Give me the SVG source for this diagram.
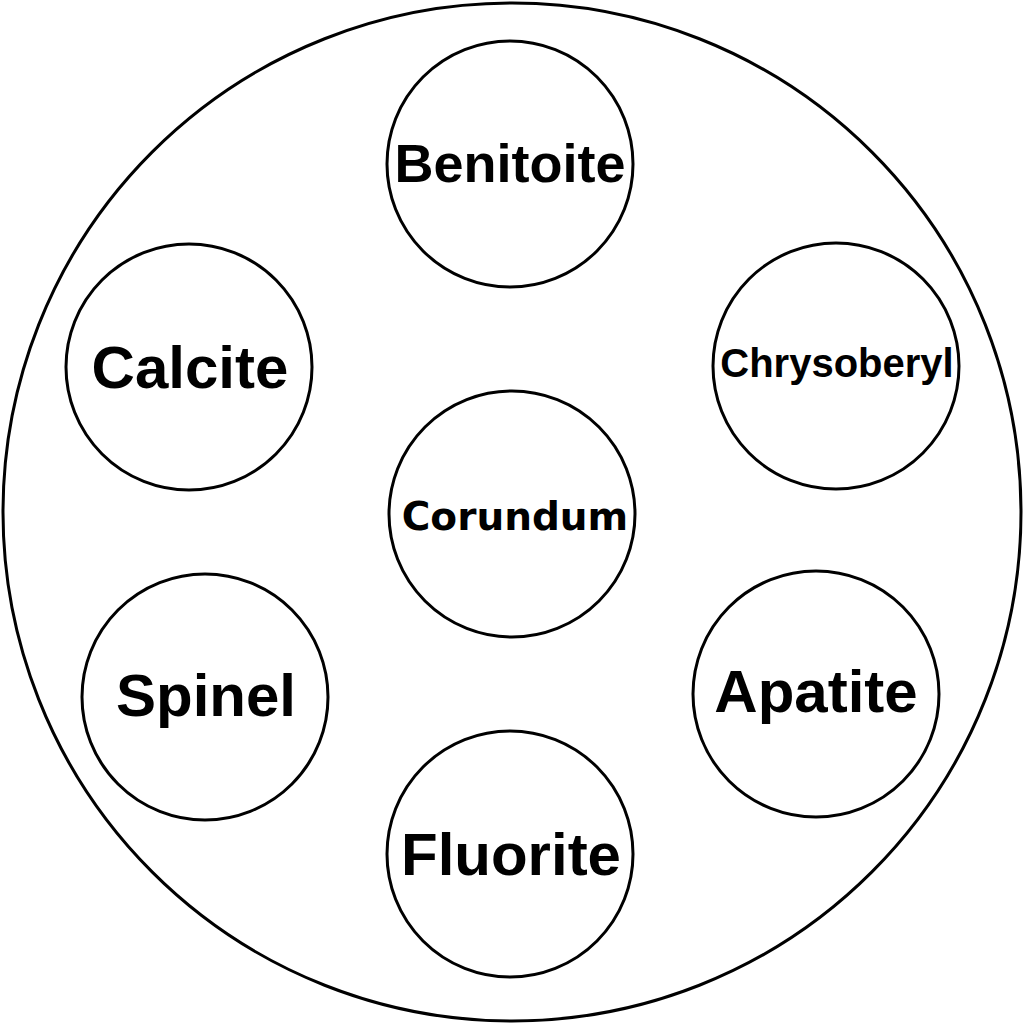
<svg xmlns="http://www.w3.org/2000/svg" width="1024" height="1024" viewBox="0 0 1024 1024">
<style>
circle{fill:#fff;stroke:#000;stroke-width:3}
text{font-family:"Liberation Sans",Arial,sans-serif;font-weight:bold;text-anchor:middle;fill:#000}
</style>
<rect width="1024" height="1024" fill="#fff"/>
<g id="outer"><circle cx="512" cy="512" r="509"/></g>
<g id="benitoite"><circle cx="510" cy="164" r="123"/><text x="510" y="182" font-size="54">Benitoite</text></g>
<g id="calcite"><circle cx="189" cy="367" r="123"/><text x="190" y="388" font-size="60">Calcite</text></g>
<g id="chrysoberyl"><circle cx="836" cy="366" r="123"/><text x="837" y="377" font-size="40">Chrysoberyl</text></g>
<g id="corundum"><circle cx="512" cy="514" r="123"/><text x="515" y="530" font-size="39" style="font-family:'DejaVu Sans',sans-serif">Corundum</text></g>
<g id="spinel"><circle cx="205" cy="697" r="123"/><text x="206" y="716" font-size="60">Spinel</text></g>
<g id="apatite"><circle cx="816" cy="694" r="123"/><text x="816" y="712" font-size="60">Apatite</text></g>
<g id="fluorite"><circle cx="510" cy="854" r="123"/><text x="511" y="875" font-size="60">Fluorite</text></g>
<g id="connectors"/>
</svg>
